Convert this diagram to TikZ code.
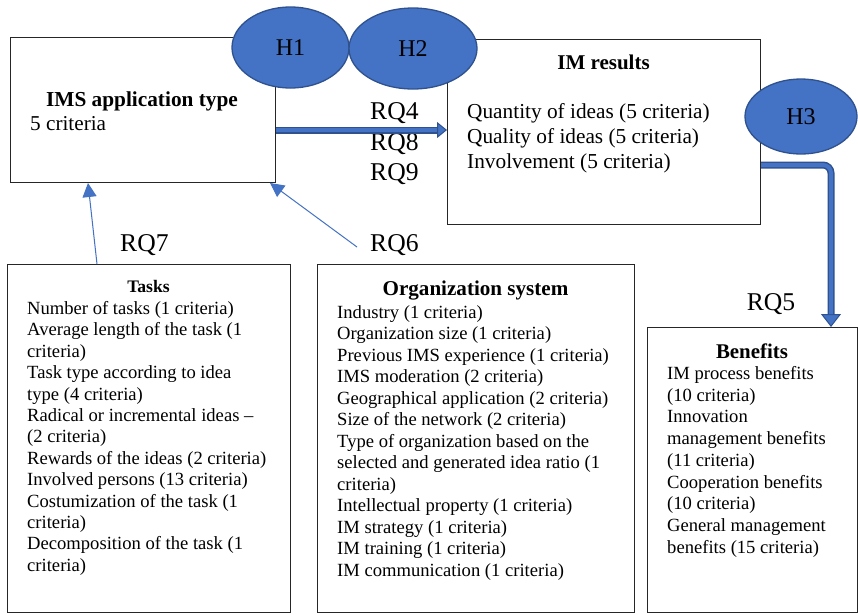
\documentclass[tikz,border=0pt]{standalone}
\usepackage{fontspec}
\setmainfont{Liberation Serif}
\usetikzlibrary{shapes.geometric,arrows.meta}

\definecolor{hblue}{HTML}{4472C4}
\definecolor{hdark}{HTML}{2F528F}
\definecolor{edge}{HTML}{262626}

\newcommand{\fs}[2]{\fontsize{#1}{#2}\selectfont}
\newcommand{\critlist}[1]{\begin{tabular}[t]{@{}l@{}}#1\end{tabular}}

\tikzset{
  box/.style={draw=edge, line width=1pt, fill=white, inner sep=0pt, anchor=north west},
  hyp/.style={ellipse, draw=hdark, fill=hblue, line width=1.3pt, inner sep=0pt,
              font=\fs{24}{28}},
  rq/.style={anchor=base west, inner sep=0pt, font=\fs{25.6}{30}},
  ttl/.style={anchor=base, inner sep=0pt},
  txt/.style={anchor=base west, inner sep=0pt},
  thinarrow/.style={draw=hblue, line width=1pt, -{Triangle[length=14pt,width=14pt]}},
  thickouter/.style={draw=hdark, line width=7pt},
  thickinner/.style={draw=hblue, line width=4pt},
}

\begin{document}
\begin{tikzpicture}[x=1pt, y=-1pt]
\useasboundingbox[fill=white] (0,0) rectangle (858,614);

% main boxes
\node[box, minimum width=265.5pt, minimum height=145pt] (ims) at (9.5,37) {};
\node[box, minimum width=313pt, minimum height=185pt] (imres) at (447,39) {};
\node[box, minimum width=283pt, minimum height=348pt] (tasks) at (7,264) {};
\node[box, minimum width=317pt, minimum height=348pt] (org) at (317,264) {};
\node[box, minimum width=210pt, minimum height=285pt] (ben) at (647,327) {};

% box contents
\node[ttl, font=\bfseries\fs{21.3}{25}] (imsTitle) at (142,106) {IMS application type};
\node[txt, font=\fs{21.2}{25}] (imsBody) at (30,130) {5 criteria};

\node[ttl, font=\bfseries\fs{21}{25}] (imrTitle) at (603.5,69.3) {IM results};
\node[txt, font=\fs{21.3}{25}] (imrBody) at (467,118.3) {\critlist{%
  Quantity of ideas (5 criteria)\\
  Quality of ideas (5 criteria)\\
  Involvement (5 criteria)}};

\node[ttl, font=\bfseries\fs{17.6}{21}] (tasksTitle) at (148.5,292) {Tasks};
\node[txt, font=\fs{18.6}{21.4}] (tasksBody) at (27,314.5) {\critlist{%
  Number of tasks (1 criteria)\\
  Average length of the task (1\\
  criteria)\\
  Task type according to idea\\
  type (4 criteria)\\
  Radical or incremental ideas --\\
  (2 criteria)\\
  Rewards of the ideas (2 criteria)\\
  Involved persons (13 criteria)\\
  Costumization of the task (1\\
  criteria)\\
  Decomposition of the task (1\\
  criteria)}};

\node[ttl, font=\bfseries\fs{21.1}{25}] (orgTitle) at (475.5,295) {Organization system};
\node[txt, font=\fs{18.6}{21.5}] (orgBody) at (337,318) {\critlist{%
  Industry (1 criteria)\\
  Organization size (1 criteria)\\
  Previous IMS experience (1 criteria)\\
  IMS moderation (2 criteria)\\
  Geographical application (2 criteria)\\
  Size of the network (2 criteria)\\
  Type of organization based on the\\
  selected and generated idea ratio (1\\
  criteria)\\
  Intellectual property (1 criteria)\\
  IM strategy (1 criteria)\\
  IM training (1 criteria)\\
  IM communication (1 criteria)}};

\node[ttl, font=\bfseries\fs{20.9}{25}] (benTitle) at (752,358.3) {Benefits};
\node[txt, font=\fs{18.6}{21.7}] (benBody) at (667,379.5) {\critlist{%
  IM process benefits\\
  (10 criteria)\\
  Innovation\\
  management benefits\\
  (11 criteria)\\
  Cooperation benefits\\
  (10 criteria)\\
  General management\\
  benefits (15 criteria)}};

% hypotheses
\node[hyp, minimum width=117pt, minimum height=81pt] (h1) at (290.5,47.5) {\raisebox{-3pt}{H1}};
\node[hyp, minimum width=128pt, minimum height=81pt] (h2) at (413,48.5) {\raisebox{-3pt}{H2}};
\node[hyp, minimum width=112pt, minimum height=75pt] (h3) at (801,116.5) {\raisebox{-3pt}{H3}};

% research question labels
\node[rq] (rq4) at (370,119) {RQ4};
\node[rq] (rq8) at (370,150) {RQ8};
\node[rq] (rq9) at (370,180) {RQ9};
\node[rq] (rq7) at (120,251.7) {RQ7};
\node[rq] (rq6) at (370,251.7) {RQ6};
\node[rq] (rq5) at (746.7,310) {RQ5};
\coordinate (rq6tail) at (357,247);

% thin influence arrows
\draw[thinarrow] (tasks.north -| 97,0) -- (ims.south -| 88,0);
\draw[thinarrow] (rq6tail) -- (ims.south -| 270,0);

% thick arrow: application type -> IM results
\draw[thickouter, -{Triangle[length=10pt,width=16pt,line width=1pt,fill=hblue]}]
  (ims.east |- 0,130) -- (imres.west |- 0,130);
\draw[thickinner, shorten >=10pt] (ims.east |- 0,130) -- (imres.west |- 0,130);

% thick elbow arrow: IM results -> benefits
\draw[thickouter, rounded corners=8pt, -{Triangle[length=13pt,width=20pt,line width=1pt,fill=hblue]}]
  (imres.east |- 0,165) -| (ben.north -| 831,0);
\draw[thickinner, rounded corners=8pt, shorten >=13pt]
  (imres.east |- 0,165) -| (ben.north -| 831,0);
\end{tikzpicture}
\end{document}
